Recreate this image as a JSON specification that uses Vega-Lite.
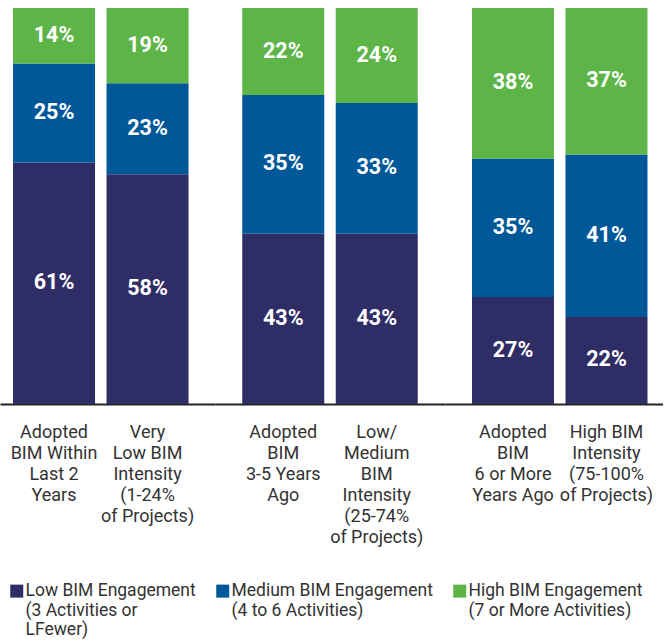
{
  "$schema": "https://vega.github.io/schema/vega-lite/v6.json",
  "padding": {"left": 0, "top": 8, "right": 0, "bottom": 0},
  "config": {
    "view": {"stroke": null},
    "font": "Roboto",
    "concat": {"spacing": 0},
    "axisX": {"labelAngle": 0, "labelExpr": "split(datum.label, '|')", "labelFontSize": 18, "labelColor": "#333333", "labelLineHeight": 21, "labelPadding": 19, "labelBaseline": "top", "ticks": false, "domainColor": "#222222", "domainWidth": 2, "labelLimit": 0, "title": null}
  },
  "data": {"values": [
    {"group": "A", "bar": "Adopted|BIM Within|Last 2|Years", "engagement": "Low BIM Engagement|(3 Activities or|LFewer)", "order": 1, "value": 0.61},
    {"group": "A", "bar": "Adopted|BIM Within|Last 2|Years", "engagement": "Medium BIM Engagement|(4 to 6 Activities)", "order": 2, "value": 0.25},
    {"group": "A", "bar": "Adopted|BIM Within|Last 2|Years", "engagement": "High BIM Engagement|(7 or More Activities)", "order": 3, "value": 0.14},
    {"group": "A", "bar": "Very|Low BIM|Intensity|(1-24%|of Projects)", "engagement": "Low BIM Engagement|(3 Activities or|LFewer)", "order": 1, "value": 0.58},
    {"group": "A", "bar": "Very|Low BIM|Intensity|(1-24%|of Projects)", "engagement": "Medium BIM Engagement|(4 to 6 Activities)", "order": 2, "value": 0.23},
    {"group": "A", "bar": "Very|Low BIM|Intensity|(1-24%|of Projects)", "engagement": "High BIM Engagement|(7 or More Activities)", "order": 3, "value": 0.19},
    {"group": "B", "bar": "Adopted|BIM|3-5 Years|Ago", "engagement": "Low BIM Engagement|(3 Activities or|LFewer)", "order": 1, "value": 0.43},
    {"group": "B", "bar": "Adopted|BIM|3-5 Years|Ago", "engagement": "Medium BIM Engagement|(4 to 6 Activities)", "order": 2, "value": 0.35},
    {"group": "B", "bar": "Adopted|BIM|3-5 Years|Ago", "engagement": "High BIM Engagement|(7 or More Activities)", "order": 3, "value": 0.22},
    {"group": "B", "bar": "Low/|Medium|BIM|Intensity|(25-74%|of Projects)", "engagement": "Low BIM Engagement|(3 Activities or|LFewer)", "order": 1, "value": 0.43},
    {"group": "B", "bar": "Low/|Medium|BIM|Intensity|(25-74%|of Projects)", "engagement": "Medium BIM Engagement|(4 to 6 Activities)", "order": 2, "value": 0.33},
    {"group": "B", "bar": "Low/|Medium|BIM|Intensity|(25-74%|of Projects)", "engagement": "High BIM Engagement|(7 or More Activities)", "order": 3, "value": 0.24},
    {"group": "C", "bar": "Adopted|BIM|6 or More|Years Ago", "engagement": "Low BIM Engagement|(3 Activities or|LFewer)", "order": 1, "value": 0.27},
    {"group": "C", "bar": "Adopted|BIM|6 or More|Years Ago", "engagement": "Medium BIM Engagement|(4 to 6 Activities)", "order": 2, "value": 0.35},
    {"group": "C", "bar": "Adopted|BIM|6 or More|Years Ago", "engagement": "High BIM Engagement|(7 or More Activities)", "order": 3, "value": 0.38},
    {"group": "C", "bar": "High BIM|Intensity|(75-100%|of Projects)", "engagement": "Low BIM Engagement|(3 Activities or|LFewer)", "order": 1, "value": 0.22},
    {"group": "C", "bar": "High BIM|Intensity|(75-100%|of Projects)", "engagement": "Medium BIM Engagement|(4 to 6 Activities)", "order": 2, "value": 0.41},
    {"group": "C", "bar": "High BIM|Intensity|(75-100%|of Projects)", "engagement": "High BIM Engagement|(7 or More Activities)", "order": 3, "value": 0.37}
  ]},
  "hconcat": [
    {
      "width": 215, "height": 396,
      "transform": [
        {"filter": "datum.group === 'A'"},
        {"stack": "value", "groupby": ["bar"], "sort": [{"field": "order"}], "as": ["y0", "y1"]}
      ],
      "encoding": {
        "x": {"field": "bar", "type": "nominal", "sort": null,
          "scale": {"paddingInner": 0.123, "paddingOuter": 0.211, "align": 0.33}}
      },
      "layer": [
        {"mark": {"type": "bar"},
         "encoding": {
           "y": {"field": "y0", "type": "quantitative", "scale": {"domain": [0, 1]}, "axis": null},
           "y2": {"field": "y1"},
           "color": {"field": "engagement", "type": "nominal", "sort": null,
             "scale": {"domain": ["Low BIM Engagement|(3 Activities or|LFewer)", "Medium BIM Engagement|(4 to 6 Activities)", "High BIM Engagement|(7 or More Activities)"], "range": ["#2f2d66", "#005898", "#5db548"]},
             "legend": {"title": null, "orient": "bottom", "direction": "horizontal", "columns": 3, "columnPadding": 18, "symbolType": "square", "symbolSize": 169, "symbolStrokeWidth": 0, "labelFontSize": 17.5, "labelColor": "#333333", "labelLimit": 0, "labelOffset": 0, "labelBaseline": "middle", "labelLineHeight": 20, "labelExpr": "split(indexof(datum.label, 'LFewer') >= 0 ? datum.label : datum.label + '| ', '|')", "offset": 28, "padding": 8}}}},
        {"transform": [{"fold": ["y0", "y1"], "as": ["k", "v"]}],
         "mark": {"type": "text", "color": "white", "fontWeight": "bold", "fontSize": 21.5},
         "encoding": {
           "y": {"aggregate": "mean", "field": "v", "type": "quantitative", "scale": {"domain": [0, 1]}, "axis": null},
           "detail": {"field": "engagement"},
           "text": {"field": "value", "type": "quantitative", "format": ".0%"}}}
      ]
    },
    {
      "width": 230, "height": 396,
      "transform": [
        {"filter": "datum.group === 'B'"},
        {"stack": "value", "groupby": ["bar"], "sort": [{"field": "order"}], "as": ["y0", "y1"]}
      ],
      "encoding": {
        "x": {"field": "bar", "type": "nominal", "sort": null,
          "scale": {"paddingInner": 0.123, "paddingOuter": 0.2914, "align": 0.5}}
      },
      "layer": [
        {"mark": {"type": "bar"},
         "encoding": {
           "y": {"field": "y0", "type": "quantitative", "scale": {"domain": [0, 1]}, "axis": null},
           "y2": {"field": "y1"},
           "color": {"field": "engagement", "type": "nominal", "sort": null,
             "scale": {"domain": ["Low BIM Engagement|(3 Activities or|LFewer)", "Medium BIM Engagement|(4 to 6 Activities)", "High BIM Engagement|(7 or More Activities)"], "range": ["#2f2d66", "#005898", "#5db548"]},
             "legend": {"title": null, "orient": "bottom", "direction": "horizontal", "columns": 3, "columnPadding": 18, "symbolType": "square", "symbolSize": 169, "symbolStrokeWidth": 0, "labelFontSize": 17.5, "labelColor": "#333333", "labelLimit": 0, "labelOffset": 0, "labelBaseline": "middle", "labelLineHeight": 20, "labelExpr": "split(indexof(datum.label, 'LFewer') >= 0 ? datum.label : datum.label + '| ', '|')", "offset": 28, "padding": 8}}}},
        {"transform": [{"fold": ["y0", "y1"], "as": ["k", "v"]}],
         "mark": {"type": "text", "color": "white", "fontWeight": "bold", "fontSize": 21.5},
         "encoding": {
           "y": {"aggregate": "mean", "field": "v", "type": "quantitative", "scale": {"domain": [0, 1]}, "axis": null},
           "detail": {"field": "engagement"},
           "text": {"field": "value", "type": "quantitative", "format": ".0%"}}}
      ]
    },
    {
      "width": 218, "height": 396,
      "transform": [
        {"filter": "datum.group === 'C'"},
        {"stack": "value", "groupby": ["bar"], "sort": [{"field": "order"}], "as": ["y0", "y1"]}
      ],
      "encoding": {
        "x": {"field": "bar", "type": "nominal", "sort": null,
          "scale": {"paddingInner": 0.123, "paddingOuter": 0.2273, "align": 0.635}}
      },
      "layer": [
        {"mark": {"type": "bar"},
         "encoding": {
           "y": {"field": "y0", "type": "quantitative", "scale": {"domain": [0, 1]}, "axis": null},
           "y2": {"field": "y1"},
           "color": {"field": "engagement", "type": "nominal", "sort": null,
             "scale": {"domain": ["Low BIM Engagement|(3 Activities or|LFewer)", "Medium BIM Engagement|(4 to 6 Activities)", "High BIM Engagement|(7 or More Activities)"], "range": ["#2f2d66", "#005898", "#5db548"]},
             "legend": {"title": null, "orient": "bottom", "direction": "horizontal", "columns": 3, "columnPadding": 18, "symbolType": "square", "symbolSize": 169, "symbolStrokeWidth": 0, "labelFontSize": 17.5, "labelColor": "#333333", "labelLimit": 0, "labelOffset": 0, "labelBaseline": "middle", "labelLineHeight": 20, "labelExpr": "split(indexof(datum.label, 'LFewer') >= 0 ? datum.label : datum.label + '| ', '|')", "offset": 28, "padding": 8}}}},
        {"transform": [{"fold": ["y0", "y1"], "as": ["k", "v"]}],
         "mark": {"type": "text", "color": "white", "fontWeight": "bold", "fontSize": 21.5},
         "encoding": {
           "y": {"aggregate": "mean", "field": "v", "type": "quantitative", "scale": {"domain": [0, 1]}, "axis": null},
           "detail": {"field": "engagement"},
           "text": {"field": "value", "type": "quantitative", "format": ".0%"}}}
      ]
    }
  ]
}
